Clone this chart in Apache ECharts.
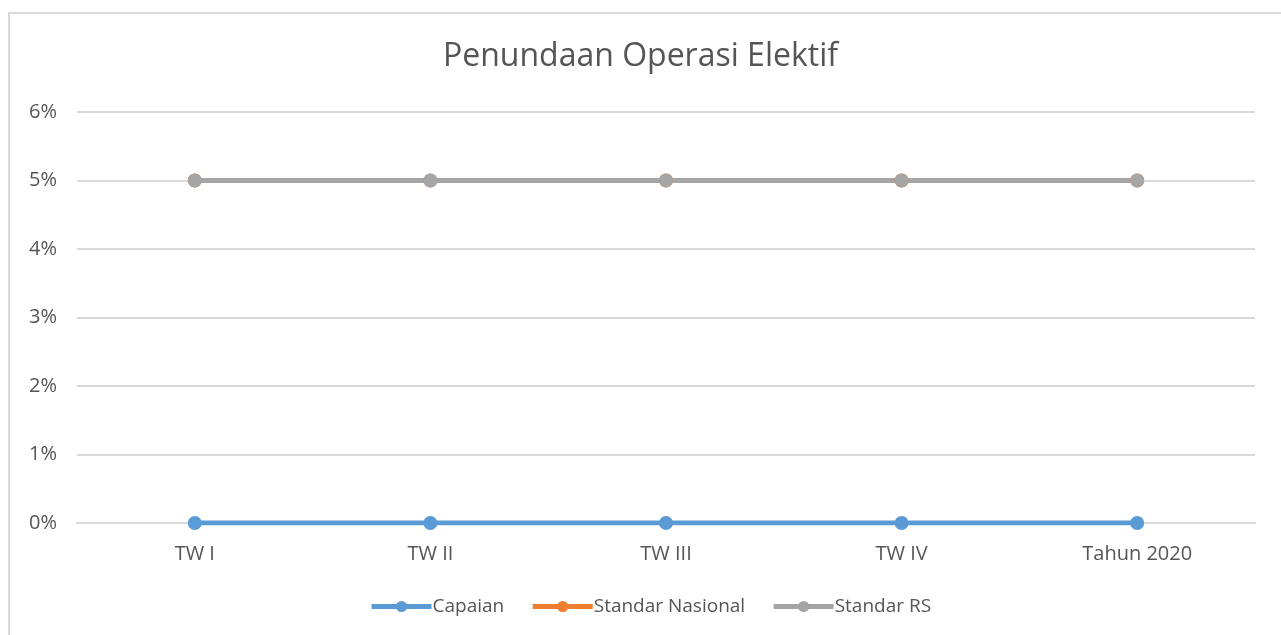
<!DOCTYPE html>
<html>
<head>
<meta charset="utf-8">
<script src="https://cdn.jsdelivr.net/npm/echarts@6/dist/echarts.min.js"></script>
<style>
  html, body { margin: 0; padding: 0; background: #fff; }
  .frame {
    position: absolute;
    left: 8px;
    top: 12px;
    width: 1300px;
    height: 640px;
    border-left: 2px solid #d9d9d9;
    border-top: 2px solid #d9d9d9;
  }
  #chart { position: absolute; left: 0; top: 0; width: 1281px; height: 635px; }
</style>
</head>
<body>
<div class="frame"></div>
<div id="chart"></div>
<script>
// data
const categories = ['TW I', 'TW II', 'TW III', 'TW IV', 'Tahun 2020']
const capaian = [0, 0, 0, 0, 0]
const standarNasional = [5, 5, 5, 5, 5]
const standarRS = [5, 5, 5, 5, 5]

const font = '"Open Sans", "Noto Sans", sans-serif'
const textColor = '#555555'

function lineSeries(name, data, color) {
    return {
        name: name,
        type: 'line',
        data: data,
        symbol: 'circle',
        symbolSize: 14,
        color: color,
        lineStyle: { width: 5, color: color },
        itemStyle: { color: color }
    }
}

const chart = echarts.init(document.getElementById('chart'))
chart.setOption({
    animation: false,
    title: {
        text: 'Penundaan Operasi Elektif',
        left: 'center',
        top: 36,
        textStyle: { fontFamily: font, fontSize: 32, fontWeight: 'normal', color: textColor }
    },
    legend: {
        bottom: 14,
        left: 364,
        itemWidth: 60,
        itemHeight: 14,
        itemGap: 26,
        lineStyle: { width: 5 },
        textStyle: { fontFamily: font, fontSize: 19, color: textColor, padding: [0, 0, 0, -4] }
    },
    grid: { left: 77, right: 26, top: 112, bottom: 112 },
    xAxis: {
        type: 'category',
        data: categories,
        axisLine: { lineStyle: { color: '#d9d9d9', width: 2 } },
        axisTick: { show: false },
        axisLabel: { fontFamily: font, fontSize: 20, color: textColor, margin: 21 }
    },
    yAxis: {
        type: 'value',
        min: 0,
        max: 6,
        interval: 1,
        axisLine: { show: false },
        axisTick: { show: false },
        splitLine: { lineStyle: { color: '#d9d9d9', width: 2 } },
        axisLabel: { formatter: '{value}%', fontFamily: font, fontSize: 20, color: textColor, margin: 20 }
    },
    series: [
        lineSeries('Capaian', capaian, '#5b9bd5'),
        lineSeries('Standar Nasional', standarNasional, '#ed7d31'),
        lineSeries('Standar RS', standarRS, '#a5a5a5')
    ]
})
</script>
</body>
</html>
